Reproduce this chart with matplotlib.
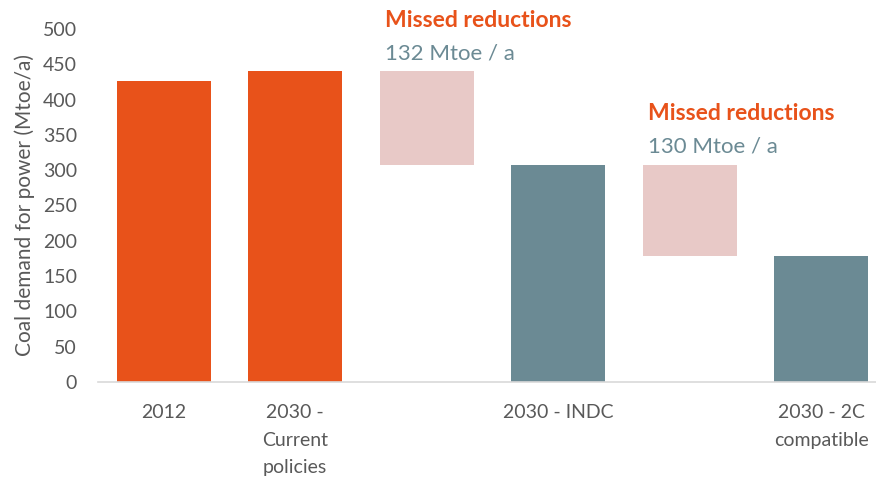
import matplotlib.pyplot as plt
import numpy as np

plt.rcParams['font.family'] = ['Lato', 'DejaVu Sans']

# data
slots = np.arange(6)
tops = [427, 440, 440, 308, 308, 178]
bottoms = [0, 0, 308, 0, 178, 0]
kinds = ['current', 'current', 'gap', 'target', 'gap', 'target']
tick_pos = [0, 1, 3, 5]
tick_labels = ['2012', '2030 -\nCurrent\npolicies', '2030 - INDC', '2030 - 2C\ncompatible']
gap_values = [132, 130]

orange = '#E8521A'
slate = '#6B8A94'
pink = '#E8C9C7'
colors = {'current': orange, 'gap': pink, 'target': slate}

fig = plt.figure(figsize=(8.76, 4.79), dpi=100)
ax = fig.add_axes([98 / 876, 97 / 479, 789 / 876, 353 / 479])

heights = [t - b for t, b in zip(tops, bottoms)]
ax.bar(slots, heights, bottom=bottoms, width=0.715,
       color=[colors[k] for k in kinds], zorder=2)

ax.set_xlim(-0.5, 5.5)
ax.set_ylim(0, 500)
ax.set_yticks(np.arange(0, 501, 50))
ax.set_xticks(tick_pos)
ax.set_xticklabels(tick_labels, linespacing=1.75, va='top')
ax.tick_params(axis='both', length=0, labelsize=14, colors='#595959')
ax.tick_params(axis='x', pad=16)
ax.tick_params(axis='y', pad=15)
for s in ['top', 'right', 'left']:
    ax.spines[s].set_visible(False)
ax.spines['bottom'].set_color('#D9D9D9')
ax.spines['bottom'].set_linewidth(1.2)
ax.set_ylabel('Coal demand for power (Mtoe/a)', fontsize=15, color='#595959', labelpad=6)

# annotations above the gap bars
gap_idx = [i for i, k in enumerate(kinds) if k == 'gap']
for i, v in zip(gap_idx, gap_values):
    x0 = i - 0.32
    ax.text(x0, tops[i] + 72, 'Missed reductions', fontsize=16.5, fontweight='bold',
            color=orange, ha='left', va='center')
    ax.text(x0, tops[i] + 26, f'{v} Mtoe / a', fontsize=16, color=slate,
            ha='left', va='center')

fig.savefig('out.png', dpi=100)
